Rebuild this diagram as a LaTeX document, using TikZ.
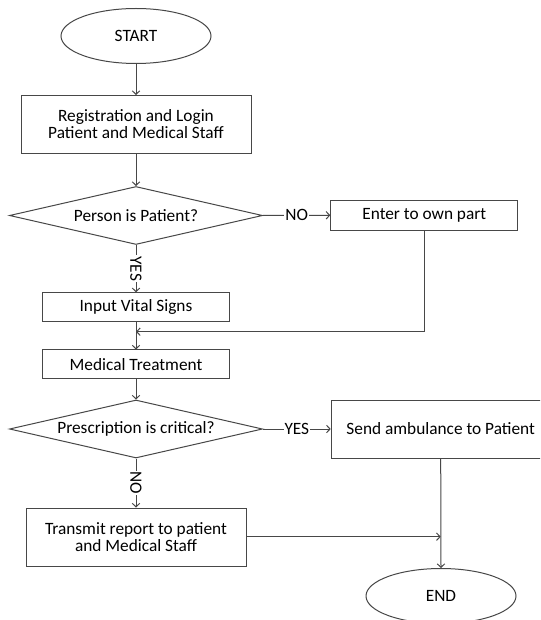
\documentclass[tikz,border=0pt]{standalone}
\usepackage{fontspec}
\setmainfont{Carlito}
\usetikzlibrary{shapes.geometric,arrows.meta}
\begin{document}
\begin{tikzpicture}[x=1pt,y=-1pt,
  every node/.style={font=\fontsize{17.3}{17}\selectfont, text=black},
  ln/.style={draw=black!72, line width=1pt},
  arr/.style={ln, -{Straight Barb[length=3.5pt,width=7.5pt]}},
  term/.style={ellipse, ln, minimum width=150pt, minimum height=55pt, inner sep=0pt},
  proc/.style={rectangle, ln, inner sep=0pt, align=center},
  dec/.style={diamond, ln, shape aspect=4.36, minimum width=253pt, minimum height=58pt, inner sep=0pt},
  lab/.style={fill=white, inner sep=1pt}
]
\useasboundingbox (0,0) rectangle (540,620);
\clip (0,0) rectangle (540,620);
\fill[white] (0,0) rectangle (540,620);

\node[term] (start) at (136,36) {START};
\node[proc, minimum width=230pt, minimum height=58pt] (reg) at (136,124.5) {Registration and Login\\Patient and Medical Staff};
\node[dec] (d1) at (136,215.5) {Person is Patient?};
\node[proc, minimum width=187pt, minimum height=29.5pt] (enter) at (424.3,215.3) {Enter to own part};
\node[proc, minimum width=187pt, minimum height=28.5pt] (input) at (136,307) {Input Vital Signs};
\node[proc, minimum width=187pt, minimum height=28.7pt] (med) at (136,364.3) {Medical Treatment};
\node[dec] (d2) at (136,429) {Prescription is critical?};
\node[proc, minimum width=219pt, minimum height=58pt] (send) at (440.7,429) {Send ambulance to Patient};
\node[proc, minimum width=220pt, minimum height=58pt] (trans) at (136,537) {Transmit report to patient\\and Medical Staff};
\node[term] (end) at (441,596) {END};

\coordinate (m1) at (136,331.7);
\coordinate (m2) at (440.7,536.7);

\draw[arr] (start) -- (reg);
\draw[arr] (reg) -- (d1);
\draw[arr] (d1.east) -- node[lab] {NO} (enter.west);
\draw[arr] (d1.south) -- node[lab, rotate=-90] {YES} (input.north);
\draw[arr] (enter.south) |- (m1);
\draw[arr] (input) -- (med);
\draw[arr] (med) -- (d2);
\draw[arr] (d2.east) -- node[lab] {YES} (send.west);
\draw[arr] (d2.south) -- node[lab, rotate=-90] {NO} (trans.north);
\draw[arr] (send.south) -- (end.north);
\draw[arr] (trans.east |- m2) -- (m2);
\end{tikzpicture}
\end{document}
